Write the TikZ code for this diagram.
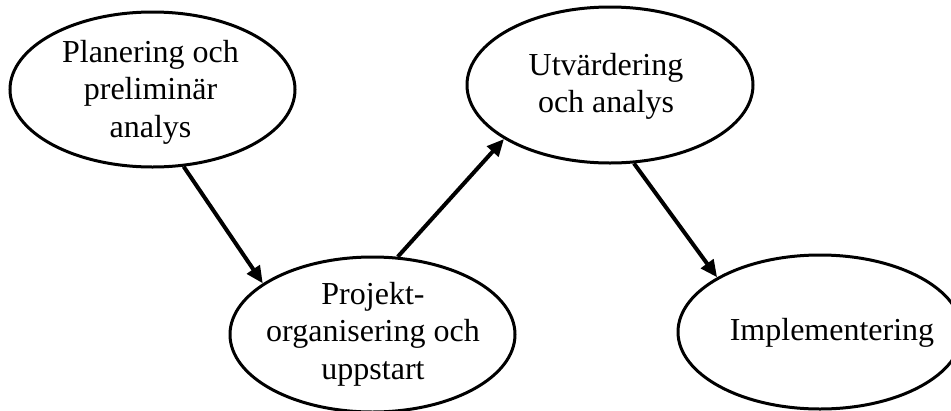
\documentclass[tikz,border=0pt]{standalone}
\usepackage{fontspec}
\setmainfont{Liberation Serif}
\usetikzlibrary{arrows.meta,shapes.geometric}
\begin{document}
\begin{tikzpicture}[x=1pt,y=-1pt,
  oval/.style={draw=black,line width=3pt,ellipse,inner sep=0pt,minimum width=285pt,minimum height=155pt},
  lbl/.style={align=center,inner sep=0pt,font=\fontsize{32pt}{37.5pt}\selectfont},
  conn/.style={line width=4pt,-{Triangle[length=17pt,width=15pt]}}]
\useasboundingbox (0,0) rectangle (951,410);
\node[oval] (e1) at (152.5,89.5) {};
\node[oval,minimum width=286pt,minimum height=156pt] (e2) at (610,85) {};
\node[oval] (e3) at (372.5,334.5) {};
\node[oval,minimum width=284pt,minimum height=154pt] (e4) at (820,332) {};
\node[lbl] (t1) at (150.5,92) {Planering och\\preliminär\\analys};
\node[lbl] (t2) at (606,86.5) {Utvärdering\\och analys};
\node[lbl] (t3) at (373,334) {Projekt-\\organisering och\\uppstart};
\node[lbl,anchor=base] (t4) at (832,340) {Implementering};
\draw[conn] (e1.-68.7) -- (e3.155.7);
\draw[conn] (e3.72.5) -- (e2.-153);
\draw[conn] (e2.-73.6) -- (e4.152.8);
\end{tikzpicture}
\end{document}
